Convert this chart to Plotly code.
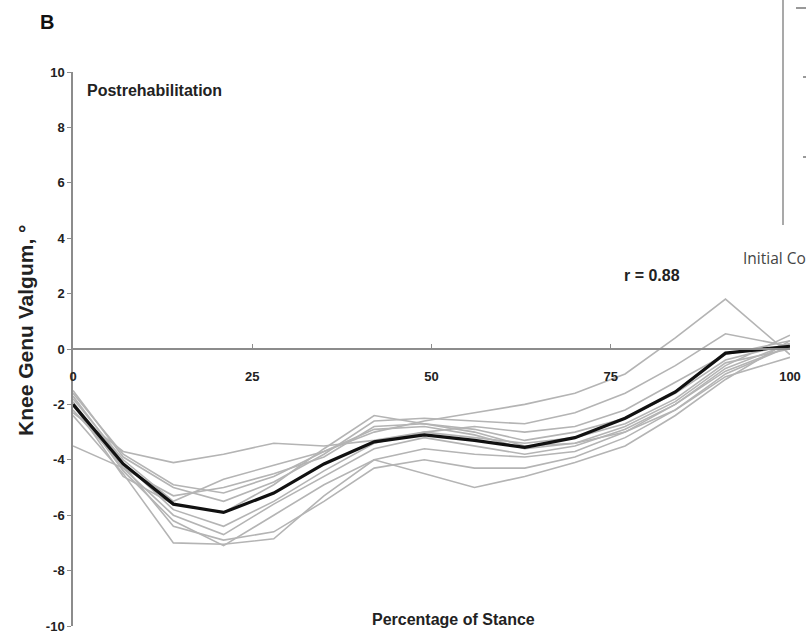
import plotly.graph_objects as go

# Percentage of stance sample points
stance = [0, 7, 14, 21, 28, 35, 42, 49, 56, 63, 70, 77, 84, 91, 100]

# Individual subjects (grey)
subj_1 = [-1.6, -3.8, -4.9, -5.2, -4.6, -3.7, -3.0, -2.6, -2.3, -2.0, -1.6, -0.9, 0.4, 1.8, -0.2]
subj_2 = [-1.5, -3.9, -5.0, -5.5, -4.8, -3.8, -2.6, -2.5, -2.6, -2.7, -2.3, -1.6, -0.6, 0.55, 0.1]
subj_3 = [-2.3, -3.7, -4.1, -3.8, -3.4, -3.5, -3.3, -3.0, -2.8, -3.0, -2.8, -2.2, -1.2, -0.2, 0.3]
subj_4 = [-3.5, -4.3, -5.3, -5.0, -4.5, -3.9, -2.8, -2.7, -2.9, -3.3, -3.0, -2.5, -1.6, -0.4, 0.2]
subj_5 = [-2.4, -4.5, -7.0, -7.05, -6.85, -5.3, -4.0, -3.6, -3.8, -3.9, -3.7, -3.0, -2.0, -0.8, 0.1]
subj_6 = [-1.9, -4.4, -6.2, -7.1, -6.0, -4.9, -4.0, -4.5, -5.0, -4.6, -4.1, -3.5, -2.4, -1.1, 0.3]
subj_7 = [-1.7, -4.1, -5.8, -6.4, -5.5, -4.4, -3.4, -3.0, -3.2, -3.4, -3.2, -2.7, -1.8, -0.5, 0.0]
subj_8 = [-2.0, -4.3, -6.0, -6.7, -5.6, -4.6, -3.6, -3.2, -3.5, -3.8, -3.5, -2.9, -2.0, -0.7, 0.2]
subj_9 = [-1.8, -4.0, -5.5, -4.7, -4.2, -3.7, -2.9, -2.8, -3.1, -3.6, -3.4, -2.8, -1.9, -0.6, 0.5]
subj_10 = [-2.2, -4.2, -6.4, -6.9, -6.6, -5.5, -4.3, -4.0, -4.3, -4.3, -3.9, -3.2, -2.2, -0.9, 0.1]
subj_11 = [-2.0, -4.6, -5.6, -5.9, -4.9, -3.6, -2.4, -2.7, -3.0, -3.5, -3.4, -3.0, -2.2, -1.0, -0.3]

# Group mean (black)
mean_curve = [-2.0, -4.15, -5.6, -5.9, -5.2, -4.15, -3.35, -3.1, -3.3, -3.55, -3.2, -2.5, -1.55, -0.15, 0.1]

x_ticks = [0, 25, 50, 75, 100]
y_ticks = [-10, -8, -6, -4, -2, 0, 2, 4, 6, 8, 10]

subjects = [subj_1, subj_2, subj_3, subj_4, subj_5, subj_6, subj_7, subj_8,
            subj_9, subj_10, subj_11]

fig = go.Figure()
for s in subjects:
    fig.add_trace(go.Scatter(x=stance, y=s, mode="lines",
                             line=dict(color="#b4b4b4", width=1.6),
                             showlegend=False, hoverinfo="skip"))
fig.add_trace(go.Scatter(x=stance, y=mean_curve, mode="lines",
                         line=dict(color="#111111", width=3.2),
                         showlegend=False))

L, R, T, B = 73, 16, 72, 8
W, H = 806, 634
pw, ph = W - L - R, H - T - B


def px(xp):
    return (xp - L) / pw


def py(yp):
    return (H - B - yp) / ph


FONT = "Liberation Sans, Arial, sans-serif"
tick_font = dict(family=FONT, size=13, color="#222222")

fig.update_layout(
    width=W, height=H,
    margin=dict(l=L, r=R, t=T, b=B, autoexpand=False),
    paper_bgcolor="white", plot_bgcolor="white",
    font=dict(family=FONT, color="#222222"),
    xaxis=dict(range=[0, 100], tickvals=x_ticks,
               ticktext=["<b>%d</b>" % v for v in x_ticks],
               showgrid=False, zeroline=False, automargin=False,
               showline=True, linecolor="#8c8c8c", linewidth=1.5,
               ticks="inside", ticklen=4, tickcolor="#8c8c8c",
               anchor="free", position=0.5, side="bottom",
               ticklabelstandoff=16, tickfont=tick_font),
    yaxis=dict(range=[-10, 10], tickvals=y_ticks,
               ticktext=["<b>%d</b>" % v for v in y_ticks],
               showgrid=False, zeroline=False, automargin=False,
               showline=True, linecolor="#8c8c8c", linewidth=1.5,
               ticks="outside", ticklen=4, tickcolor="#8c8c8c",
               tickfont=tick_font),
)

ann = [
    dict(text="<b>B</b>", x=px(47), y=py(22), font=dict(size=20, color="#111")),
    dict(text="<b>Postrehabilitation</b>", x=px(85), y=py(90), xanchor="left",
         font=dict(size=16, color="#222")),
    dict(text="<b>r = 0.88</b>", x=px(622), y=py(275), xanchor="left",
         font=dict(size=16, color="#222")),
    dict(text="<b>Percentage of Stance</b>", x=px(453), y=py(619),
         font=dict(size=16, color="#222")),
    dict(text="<b>Knee Genu Valgum, °</b>", x=px(25), y=py(331), textangle=-90,
         font=dict(size=21, color="#222")),
    dict(text="Initial Co", x=px(741), y=py(258), xanchor="left",
         font=dict(family="Open Sans", size=15.5, color="#444")),
]
for a in ann:
    a.update(xref="paper", yref="paper", showarrow=False)
    if "xanchor" not in a:
        a["xanchor"] = "center"
    a["yanchor"] = "middle"
fig.update_layout(annotations=ann)

shapes = [
    dict(type="line", x0=px(783), x1=px(783), y0=py(225), y1=py(0),
         line=dict(color="#8c8c8c", width=1.5)),
    dict(type="line", x0=px(796), x1=px(806), y0=py(8), y1=py(8),
         line=dict(color="#777", width=1.5)),
    dict(type="line", x0=px(803), x1=px(806), y0=py(77), y1=py(77),
         line=dict(color="#777", width=1.5)),
    dict(type="line", x0=px(803), x1=px(806), y0=py(157), y1=py(157),
         line=dict(color="#777", width=1.5)),
]
for s in shapes:
    s.update(xref="paper", yref="paper")
fig.update_layout(shapes=shapes)

fig.write_html("out.html",
               config={"displayModeBar": False},
               post_script="document.body.style.margin='0';"
                           "document.body.style.overflow='hidden';")
